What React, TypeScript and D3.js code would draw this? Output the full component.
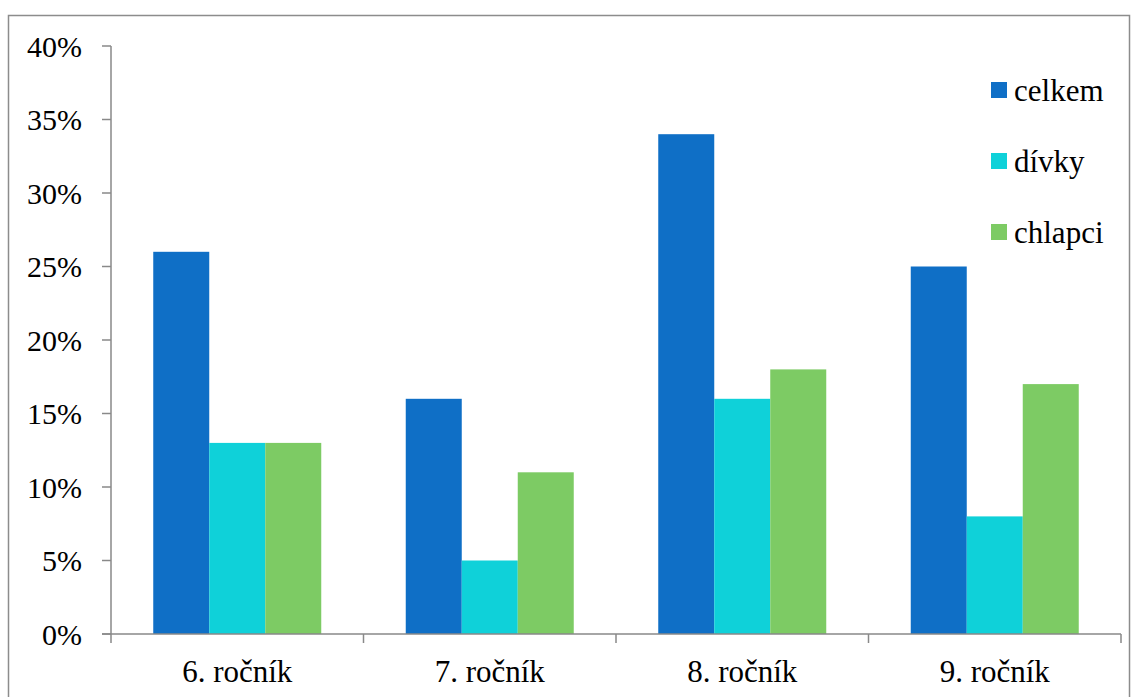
import React from "react";
import * as d3 from "d3";

const categories = ["6. ročník", "7. ročník", "8. ročník", "9. ročník"];
const seriesNames = ["celkem", "dívky", "chlapci"];
const celkem = [26, 16, 34, 25];
const divky = [13, 5, 16, 8];
const chlapci = [13, 11, 18, 17];
const yTicks = [0, 5, 10, 15, 20, 25, 30, 35, 40];
const colors = ["#0F6FC6", "#0FD1D9", "#7DCB64"];

export default function App() {
  const W = 1131, H = 697;
  const left = 111, right = 1121, top = 46, bottom = 634;
  const series = [celkem, divky, chlapci];
  const x = d3.scaleBand<string>().domain(categories).range([left, right]).paddingInner(0).paddingOuter(0);
  const bw = 56;
  const y = d3.scaleLinear().domain([0, 40]).range([bottom, top]);
  const axisColor = "#898989";
  const font = "Times New Roman, Liberation Serif, Tinos, serif";
  return (
    <svg width={W} height={H} style={{ position: "absolute", left: 0, top: 0, background: "#fff" }}>
      <rect x={8.5} y={15.5} width={1121} height={700} fill="none" stroke="#8c8c8c" strokeWidth={1.5} />
      {categories.map((c, i) => {
        const cx = (x(c) as number) + x.bandwidth() / 2;
        return series.map((s, j) => (
          <rect key={c + j} x={cx - 1.5 * bw + j * bw} y={y(s[i])} width={bw} height={bottom - y(s[i])} fill={colors[j]} />
        ));
      })}
      <line x1={left} x2={left} y1={top} y2={bottom} stroke={axisColor} strokeWidth={1.5} />
      {yTicks.map((t) => (
        <g key={t}>
          <line x1={102} x2={left} y1={y(t)} y2={y(t)} stroke={axisColor} strokeWidth={1.5} />
          <text x={82} y={y(t)} dy="0.35em" textAnchor="end" fontFamily={font} fontSize={30} fill="#000">{t}%</text>
        </g>
      ))}
      <line x1={102} x2={right} y1={bottom} y2={bottom} stroke={axisColor} strokeWidth={1.5} />
      {[...categories.map((c) => x(c) as number), right].map((v, i) => (
        <line key={i} x1={v} x2={v} y1={bottom} y2={bottom + 9} stroke={axisColor} strokeWidth={1.5} />
      ))}
      {categories.map((c) => (
        <text key={c} x={(x(c) as number) + x.bandwidth() / 2} y={682} textAnchor="middle" fontFamily={font} fontSize={31} fill="#000">{c}</text>
      ))}
      {seriesNames.map((n, j) => {
        const cy = 90 + j * 71;
        return (
          <g key={n}>
            <rect x={991} y={cy - 8} width={16} height={16} fill={colors[j]} />
            <text x={1014} y={cy} dy="0.35em" fontFamily={font} fontSize={31} fill="#000">{n}</text>
          </g>
        );
      })}
    </svg>
  );
}
